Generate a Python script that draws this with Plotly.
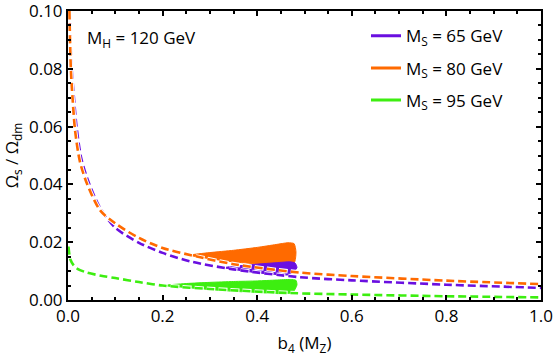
import plotly.graph_objects as go

# ---- data ----
b4_65 = [0.0035, 0.007, 0.0125, 0.018, 0.028, 0.043, 0.068, 0.10, 0.15, 0.20, 0.26, 0.35, 0.49, 0.60, 0.80, 1.0]
om_65 = [0.100, 0.082, 0.070, 0.060, 0.049, 0.041, 0.0318, 0.0250, 0.0198, 0.0163, 0.0133, 0.0106, 0.0079, 0.0068, 0.0053, 0.0042]

b4_80 = [0.003, 0.006, 0.010, 0.015, 0.025, 0.040, 0.068, 0.10, 0.15, 0.20, 0.26, 0.35, 0.49, 0.60, 0.80, 1.0]
om_80 = [0.100, 0.080, 0.069, 0.0586, 0.048, 0.0403, 0.031, 0.0265, 0.0215, 0.0180, 0.0155, 0.0124, 0.0095, 0.0083, 0.0067, 0.0055]

b4_95 = [0.001, 0.005, 0.012, 0.02, 0.04, 0.07, 0.10, 0.15, 0.20, 0.30, 0.47, 0.60, 0.80, 1.0]
om_95 = [0.0185, 0.0140, 0.0120, 0.0108, 0.0095, 0.0084, 0.0076, 0.0062, 0.0050, 0.0038, 0.0024, 0.0019, 0.0013, 0.0009]

# allowed regions (upper edge then lower edge back)
reg80_x = [0.258, 0.30, 0.35, 0.40, 0.44, 0.465, 0.478, 0.482, 0.478, 0.45, 0.40, 0.35, 0.30, 0.258]
reg80_y = [0.0155, 0.0164, 0.0172, 0.0182, 0.0192, 0.0198, 0.0195, 0.0165, 0.0128, 0.0122, 0.0125, 0.0132, 0.0143, 0.0155]

reg65_x = [0.33, 0.36, 0.40, 0.44, 0.47, 0.48, 0.484, 0.47, 0.44, 0.40, 0.36, 0.33]
reg65_y = [0.0112, 0.0118, 0.0124, 0.0129, 0.0132, 0.0128, 0.0112, 0.0088, 0.0088, 0.0094, 0.0103, 0.0112]

reg95_x = [0.20, 0.25, 0.30, 0.35, 0.40, 0.44, 0.47, 0.482, 0.484, 0.475, 0.45, 0.40, 0.35, 0.30, 0.25, 0.20]
reg95_y = [0.0050, 0.0057, 0.0061, 0.0064, 0.0066, 0.0069, 0.0071, 0.0068, 0.0052, 0.0026, 0.0022, 0.0026, 0.0030, 0.0036, 0.0043, 0.0050]

labels = ["M<sub>S</sub> = 65 GeV", "M<sub>S</sub> = 80 GeV", "M<sub>S</sub> = 95 GeV"]
colors = ["#6a0fe0", "#ff6a00", "#3dee10"]

FONT = "Open Sans"
FS = 17

fig = go.Figure()

# filled regions
for rx, ry, c in [(reg95_x, reg95_y, colors[2]), (reg80_x, reg80_y, colors[1]), (reg65_x, reg65_y, colors[0])]:
    fig.add_trace(go.Scatter(x=rx, y=ry, mode="lines", fill="toself", fillcolor=c,
                             line=dict(color=c, width=1, shape="spline", smoothing=0.6),
                             showlegend=False, hoverinfo="skip"))

# dashed curves with a white halo
for bx, oy, c in [(b4_95, om_95, colors[2]), (b4_65, om_65, colors[0]), (b4_80, om_80, colors[1])]:
    fig.add_trace(go.Scatter(x=bx, y=oy, mode="lines",
                             line=dict(color="white", width=4.5, dash="9px,3px", shape="spline", smoothing=0.8),
                             showlegend=False, hoverinfo="skip"))
    fig.add_trace(go.Scatter(x=bx, y=oy, mode="lines",
                             line=dict(color=c, width=2.6, dash="8px,4px", shape="spline", smoothing=0.8),
                             showlegend=False))

# legend entries
for i, (lab, c) in enumerate(zip(labels, colors)):
    fig.add_trace(go.Scatter(x=[None], y=[None], mode="lines", name=lab,
                             line=dict(color=c, width=3), legendgroup=f"g{i}"))

fig.add_annotation(x=0.035, y=0.0905, xref="x", yref="y", text="M<sub>H</sub> = 120 GeV",
                   showarrow=False, xanchor="left", yanchor="middle",
                   font=dict(family=FONT, size=FS, color="black"))

axis_common = dict(showgrid=False, zeroline=False, showline=True, linecolor="black", linewidth=2,
                   mirror="ticks", ticks="inside", ticklen=5, tickwidth=2, tickcolor="black",
                   automargin=False, ticklabeloverflow="allow",
                   tickfont=dict(family=FONT, size=FS, color="black"))

fig.update_xaxes(range=[0, 1.0], dtick=0.2, tick0=0, tickformat=".1f",
                 minor=dict(dtick=0.05, ticks="inside", ticklen=3, tickwidth=1.5, tickcolor="black"),
                 title=dict(text="b<sub>4</sub> (M<sub>Z</sub>)", font=dict(family=FONT, size=FS, color="black"), standoff=11),
                 **axis_common)
fig.update_yaxes(range=[0, 0.1], dtick=0.02, tick0=0, tickformat=".2f",
                 minor=dict(dtick=0.005, ticks="inside", ticklen=3, tickwidth=1.5, tickcolor="black"),
                 title=dict(text="Ω<sub>s</sub> / Ω<sub>dm</sub>", font=dict(family=FONT, size=FS, color="black"), standoff=16),
                 **axis_common)

fig.update_layout(
    width=554, height=361,
    margin=dict(l=68, r=13, t=11, b=61),
    plot_bgcolor="white", paper_bgcolor="white",
    font=dict(family=FONT, size=FS, color="black"),
    legend=dict(x=0.63, y=0.975, xanchor="left", yanchor="top", bgcolor="rgba(0,0,0,0)",
                font=dict(family=FONT, size=FS, color="black"), tracegroupgap=7),
    showlegend=True,
)

# remove the default 8px page margin so the 554x361 figure fills the window exactly
fig.write_html("out.html", config={"displayModeBar": False},
               post_script="document.body.style.margin='0';document.body.style.overflow='hidden';")
